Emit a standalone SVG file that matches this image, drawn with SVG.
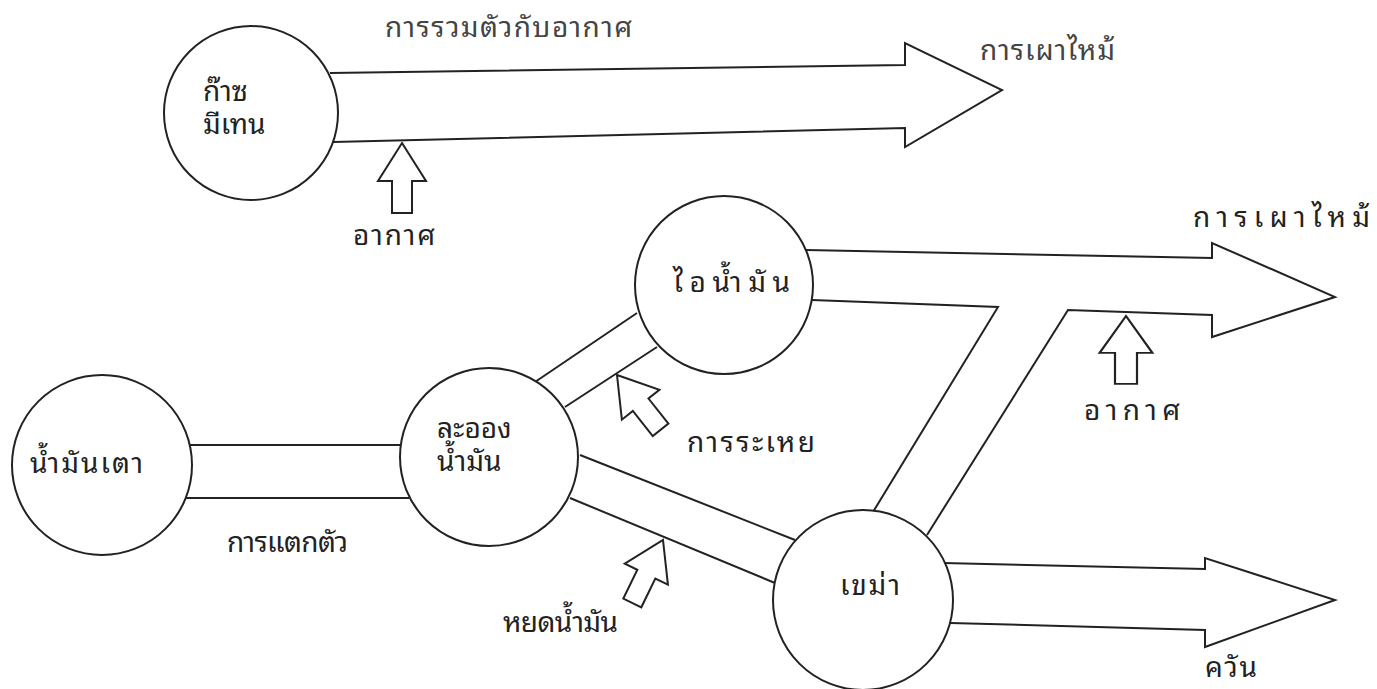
<svg xmlns="http://www.w3.org/2000/svg" width="1377" height="689" viewBox="0 0 1377 689">
<style>
.node{fill:#fff;stroke:#222;stroke-width:2}
.conn{fill:none;stroke:#222;stroke-width:2;stroke-linejoin:miter}
.ar{fill:#fff;stroke:#222;stroke-width:2;stroke-linejoin:miter}
text{font-family:"Noto Sans Thai Looped","Noto Sans Thai","Noto Serif Thai","DejaVu Sans",sans-serif;fill:#222;font-size:28px}
.lt{fill:#444}
</style>
<defs>
<path id="sa" d="M0,0 L24,38 L10,38 L10,70 L-10,70 L-10,38 L-24,38 Z"/>
</defs>
<rect width="1377" height="689" fill="#fff"/>
<g id="connectors">
<path class="conn" d="M330,73 L905,65 L905,43 L1002,90 L905,147 L905,128 L333,142"/>
<path class="conn" d="M190,445 L401,445"/>
<path class="conn" d="M186,498 L409,498"/>
<path class="conn" d="M535,382 L637,313"/>
<path class="conn" d="M565,407 L657,347"/>
<path class="conn" d="M580,455 L795,540"/>
<path class="conn" d="M570,498 L775,583"/>
<path class="conn" d="M806,250 L1212,258 L1212,243 L1335,297 L1212,337 L1212,315 L1068,310 L927,535"/>
<path class="conn" d="M812,300 L998,307 L873,512"/>
<path class="conn" d="M943,563 L1205,569 L1205,558 L1335,600 L1205,647 L1205,630 L950,623"/>
<use href="#sa" class="ar" transform="translate(402,143)"/>
<use href="#sa" class="ar" transform="translate(1126,316) scale(1.1,0.97)"/>
<use href="#sa" class="ar" transform="translate(617,375) rotate(-38.5)"/>
<use href="#sa" class="ar" transform="translate(663,540) rotate(26)"/>
</g>
<g id="n-gas">
<circle class="node" cx="251" cy="113" r="87"/>
<text font-size="27"><tspan x="203" y="101">ก๊าซ</tspan><tspan x="203" y="134">มีเทน</tspan></text>
</g>
<g id="n-fueloil">
<circle class="node" cx="102" cy="465" r="90"/>
<text x="30" y="473" textLength="113" lengthAdjust="spacing">น้ำมันเตา</text>
</g>
<g id="n-droplet">
<circle class="node" cx="489" cy="457" r="89"/>
<text font-size="27"><tspan x="437" y="438">ละออง</tspan><tspan x="437" y="471">น้ำมัน</tspan></text>
</g>
<g id="n-vapor">
<circle class="node" cx="724" cy="285" r="89"/>
<text x="673" y="292" font-size="29" textLength="117" lengthAdjust="spacing">ไอน้ำมัน</text>
</g>
<g id="n-soot">
<circle class="node" cx="863" cy="600" r="90"/>
<text x="840" y="595" textLength="60" lengthAdjust="spacing">เขม่า</text>
</g>
<g id="labels">
<text class="lt" x="385" y="37" font-size="19" textLength="247" lengthAdjust="spacing">การรวมตัวกับอากาศ</text>
<text class="lt" x="980" y="60" font-size="22" textLength="135" lengthAdjust="spacing">การเผาไหม้</text>
<text x="353" y="245" textLength="82" lengthAdjust="spacing">อากาศ</text>
<text x="1193" y="227" font-size="25" textLength="177" lengthAdjust="spacing">การเผาไหม้</text>
<text x="687" y="452" textLength="128" lengthAdjust="spacing">การระเหย</text>
<text x="1084" y="420" textLength="96" lengthAdjust="spacing">อากาศ</text>
<text x="227" y="552" textLength="121" lengthAdjust="spacing">การแตกตัว</text>
<text x="503" y="632" textLength="115" lengthAdjust="spacing">หยดน้ำมัน</text>
<text x="1205" y="677" textLength="52" lengthAdjust="spacing">ควัน</text>
</g>
</svg>
